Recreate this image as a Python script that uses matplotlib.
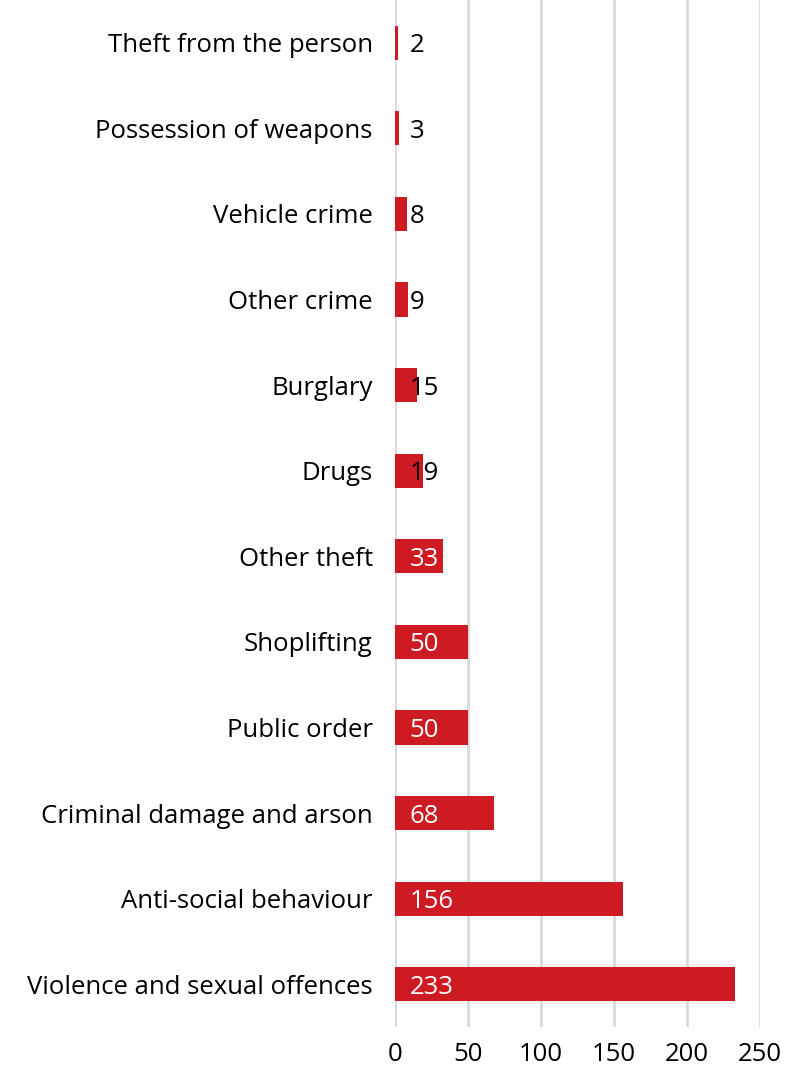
import matplotlib.pyplot as plt

# Offence counts, listed top to bottom as drawn
categories = ['Theft from the person', 'Possession of weapons', 'Vehicle crime',
              'Other crime', 'Burglary', 'Drugs', 'Other theft', 'Shoplifting',
              'Public order', 'Criminal damage and arson', 'Anti-social behaviour',
              'Violence and sexual offences']
counts = [2, 3, 8, 9, 15, 19, 33, 50, 50, 68, 156, 233]
x_ticks = [0, 50, 100, 150, 200, 250]

plt.rcParams['font.family'] = ['Open Sans', 'DejaVu Sans']
fs = 18.5

fig = plt.figure(figsize=(8.08, 10.70), dpi=100)
ax = fig.add_axes([395 / 808, 1 - 1027 / 1070, 365 / 808, 1027 / 1070])

red = '#CE1A22'
y_pos = list(range(len(categories)))
ax.barh(y_pos, counts, height=0.4, color=red, zorder=3)

# value labels sit just inside the bar start; white when the bar is wide enough
for y, v in zip(y_pos, counts):
    colour = 'white' if v >= 30 else 'black'
    ax.text(10, y, str(v), va='center_baseline', ha='left', fontsize=fs,
            color=colour, zorder=4)

ax.set_xlim(0, 250)
ax.set_ylim(len(categories) - 0.5, -0.5)
ax.set_xticks(x_ticks)
ax.set_yticks(y_pos)
ax.set_yticklabels(categories)
ax.tick_params(axis='y', length=0, pad=16, labelsize=fs)
ax.tick_params(axis='x', length=0, pad=11, labelsize=fs)

ax.grid(axis='x', color='#d9d9d9', linewidth=2, zorder=0)
for s in ax.spines.values():
    s.set_visible(False)

plt.savefig('out.png', dpi=100)
